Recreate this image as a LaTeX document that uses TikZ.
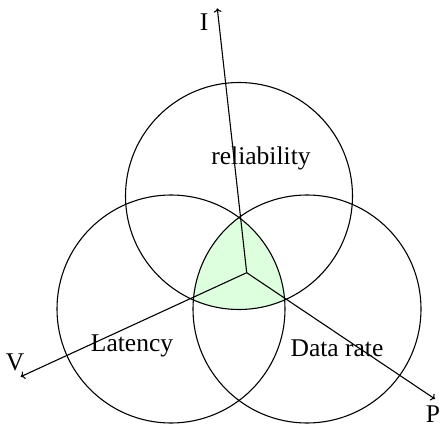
\documentclass[tikz,border=0pt]{standalone}
\usepackage{fontspec}
\setmainfont{Liberation Serif}
\usepackage{tikz}
\usetikzlibrary{arrows.meta}

\begin{document}
\begin{tikzpicture}[x=1pt,y=-1pt,line width=1.1pt,
    >={To[length=4pt,width=8pt]},
    font=\fontsize{25.5}{30}\selectfont]
	\useasboundingbox (0,0) rectangle (441,427);
	\coordinate (CT) at (239,196);
	\coordinate (CL) at (171,309);
	\coordinate (CR) at (307,309);
	\begin{scope}
		\clip (CT) circle (113.5pt);
		\clip (CL) circle (114pt);
		\fill [green!13] (CR) circle (114pt);
	\end{scope}
	\draw (CT) circle (113.5pt);
	\draw (CL) circle (114pt);
	\draw (CR) circle (114pt);
	\coordinate (O) at (246.7,272.7);
	\coordinate (IT) at (217.3,8.3);
	\coordinate (VT) at (20.7,376.7);
	\coordinate (PT) at (435,399);
	\node (I) at (204,22) {I};
	\node (V) at (15,362) {V};
	\node (P) at (433,414) {P};
	\node (REL) at (261,158) {reliability};
	\node (LAT) at (132,346) {Latency};
	\node (DR) at (337,348) {Data rate};
	\draw [->] (O) -- (IT);
	\draw [->] (O) -- (VT);
	\draw [->] (O) -- (PT);
\end{tikzpicture}
\end{document}
